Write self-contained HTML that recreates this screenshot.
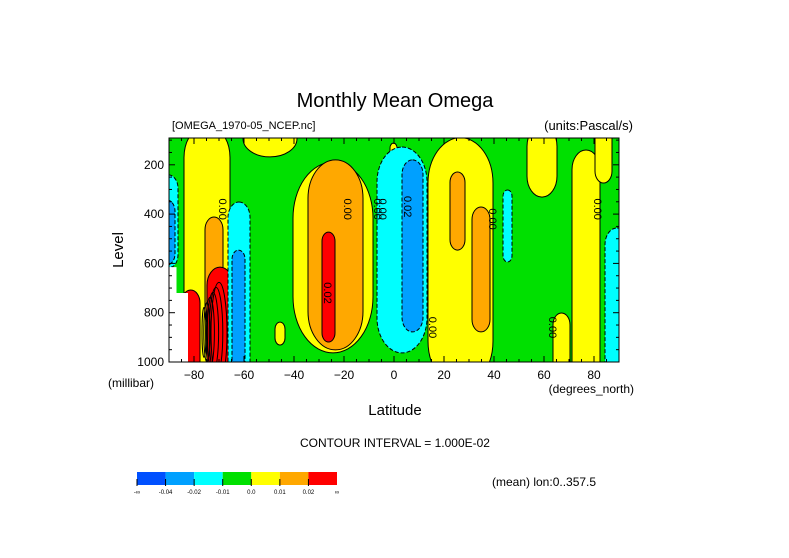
<!DOCTYPE html>
<html><head><meta charset="utf-8"><style>
body{margin:0;background:#fff;}
svg{display:block;font-family:"Liberation Sans",sans-serif;}
</style></head><body>
<svg id="chart" width="789" height="558" viewBox="0 0 789 558" xmlns="http://www.w3.org/2000/svg">
<rect width="789" height="558" fill="#fff"/>
<text x="395" y="107" font-size="20" text-anchor="middle" fill="#000">Monthly Mean Omega</text>
<text x="172" y="129" font-size="11" fill="#000">[OMEGA_1970-05_NCEP.nc]</text>
<text x="633" y="130" font-size="13" text-anchor="end" fill="#000">(units:Pascal/s)</text>
<defs><clipPath id="clip"><rect x="169" y="138" width="450" height="224"/></clipPath></defs>
<g id="plot" clip-path="url(#clip)"></g>
<g id="axes"></g>
<text transform="translate(123,250) rotate(-90)" font-size="15" text-anchor="middle">Level</text>
<text x="108" y="387" font-size="12">(millibar)</text>
<text x="634" y="393" font-size="12" text-anchor="end">(degrees_north)</text>
<text x="395" y="415" font-size="15" text-anchor="middle">Latitude</text>
<text x="395" y="447" font-size="12" text-anchor="middle">CONTOUR INTERVAL = 1.000E-02</text>
<g id="legend"></g>
<text x="492" y="486" font-size="12">(mean) lon:0..357.5</text>
</svg>
<script>
const NS="http://www.w3.org/2000/svg";
// blobs: [lat0, lat1, pTop, pBottom, levelIndex]
const blobLat0=[-84,-94,-94,-60.4,-40.4,-47.6,-1.6,13.6,53.2,71.2,63.6,80.4,-34.4,-75.6,22.4,31.2,-28.8,-74.8,-85,-66.4,-6.8,43.6,84.4,-64.8,3.2,-94];
const blobLat1=[-65.6,-86.4,-87.6,-38.8,-8.4,-43.6,1.2,39.6,65.2,82.4,70.4,87.2,-12.4,-68.4,28.4,38.4,-23.6,-64.4,-77.6,-57.6,13.2,47.2,94,-59.6,11.6,-88];
const blobPTop=[40,241,343,20,189,838,112,90,40,140,801,40,180,412,229,371,473,615,708,351,128,302,456,546,180,600];
const blobPBot=[1100,619,606,168,963,931,193,1100,331,1100,1100,274,951,858,546,878,919,1080,1080,1080,963,594,1100,1080,878,1000];
const blobLevel=[4,2,1,4,4,4,4,4,4,4,4,4,5,5,5,5,6,6,6,2,2,2,2,1,1,2];
const levelColors=["#0050ff","#00a0ff","#00ffff","#00e000","#ffff00","#ffa800","#ff0000"];
const xTicks=[-80,-60,-40,-20,0,20,40,60,80];
const yTicks=[200,400,600,800,1000];
const legendLabels=["-∞","-0.04","-0.02","-0.01","0.0","0.01","0.02","∞"];
const x=lat=>169+(lat+90)*2.5;
const y=p=>362-(1000-p)*0.2465;
const plot=document.getElementById('plot');
const bg=document.createElementNS(NS,'rect');


bg.setAttribute('x',169);bg.setAttribute('y',138);bg.setAttribute('width',450);bg.setAttribute('height',224);bg.setAttribute('fill',levelColors[3]);
plot.appendChild(bg);
const order=[4,5,6,2,1];
order.forEach(lv=>{
 for(let i=0;i<blobLat0.length;i++){
  if(blobLevel[i]!==lv)continue;
  const x0=x(blobLat0[i]),x1=x(blobLat1[i]),y0=y(blobPTop[i]),y1=y(blobPBot[i]);
  const w=x1-x0,h=y1-y0;
  const e=document.createElementNS(NS,'rect');
  
  
  e.setAttribute('x',x0);e.setAttribute('y',y0);e.setAttribute('width',w);e.setAttribute('height',h);
  e.setAttribute('rx',w/2);e.setAttribute('ry',Math.min(h/2,w*0.7));
  e.setAttribute('fill',levelColors[lv]);e.setAttribute('stroke','#000');e.setAttribute('stroke-width','1');
  if(lv<3)e.setAttribute('stroke-dasharray','4,2');
  plot.appendChild(e);
 }
});
const wm=document.createElementNS(NS,'polygon');


wm.setAttribute('points',`${x(-90)},${y(615)} ${x(-87)},${y(615)} ${x(-87)},${y(720)} ${x(-82.4)},${y(720)} ${x(-82.4)},${y(1000)} ${x(-90)},${y(1000)}`);
wm.setAttribute('fill','#fff');
plot.appendChild(wm);
for(let k=0;k<6;k++){
 const l=document.createElementNS(NS,'ellipse');
 
 
 l.setAttribute('cx',x(-76+k*1.2));l.setAttribute('cy',y(880));l.setAttribute('rx',2+k*1.2);l.setAttribute('ry',25+k*5);
 l.setAttribute('fill','none');l.setAttribute('stroke','#000');
 plot.appendChild(l);
}
const labs=[[-70,380,"0.00"],[-20,380,"0.00"],[-28,720,"0.02"],[-8,380,"0.00"],[4,370,"0.02"],[38,420,"0.00"],[-6,380,"0.00"],[80,380,"0.00"],[14,860,"0.00"],[62,860,"0.00"]];
labs.forEach(a=>{
 const t=document.createElementNS(NS,'text');
 
 
 t.setAttribute('transform',`translate(${x(a[0])},${y(a[1])}) rotate(90)`);
 t.setAttribute('font-size','11');t.setAttribute('text-anchor','middle');t.textContent=a[2];
 plot.appendChild(t);
});
const axes=document.getElementById('axes');
const fr=document.createElementNS(NS,'rect');


fr.setAttribute('x',169);fr.setAttribute('y',138);fr.setAttribute('width',450);fr.setAttribute('height',224);fr.setAttribute('fill','none');fr.setAttribute('stroke','#000');
axes.appendChild(fr);
function line(x1,y1,x2,y2){const l=document.createElementNS(NS,'line');


l.setAttribute('x1',x1);l.setAttribute('y1',y1);l.setAttribute('x2',x2);l.setAttribute('y2',y2);l.setAttribute('stroke','#000');axes.appendChild(l);}
for(let lat=-90;lat<=90;lat+=5){const L=lat%20===0?6:3;line(x(lat),362,x(lat),362-L);line(x(lat),138,x(lat),138+L);}
for(let p=100;p<=1000;p+=50){const L=p%200===0?6:3;line(169,y(p),169+L,y(p));line(619,y(p),619-L,y(p));}
xTicks.forEach(v=>{const t=document.createElementNS(NS,'text');


t.setAttribute('x',x(v));t.setAttribute('y',379);t.setAttribute('font-size','12');t.setAttribute('text-anchor','middle');t.textContent=String(v).replace('-','−');axes.appendChild(t);});
yTicks.forEach(v=>{const t=document.createElementNS(NS,'text');


t.setAttribute('x',164);t.setAttribute('y',y(v)+4);t.setAttribute('font-size','12');t.setAttribute('text-anchor','end');t.textContent=v;axes.appendChild(t);});
const lg=document.getElementById('legend');
const legColors=["#0050ff","#00a0ff","#00ffff","#00e000","#ffff00","#ffa800","#ff0000"];
legColors.forEach((c,i)=>{const r=document.createElementNS(NS,'rect');


const w=200/7;r.setAttribute('x',137+i*w);r.setAttribute('y',472);r.setAttribute('width',w);r.setAttribute('height',13);r.setAttribute('fill',c);lg.appendChild(r);
const tk=document.createElementNS(NS,'line');


tk.setAttribute('x1',137+i*w);tk.setAttribute('x2',137+i*w);tk.setAttribute('y1',479);tk.setAttribute('y2',486);tk.setAttribute('stroke','#000');lg.appendChild(tk);});
legendLabels.forEach((s,i)=>{const t=document.createElementNS(NS,'text');


t.setAttribute('x',137+i*200/7);t.setAttribute('y',494);t.setAttribute('font-size','6');t.setAttribute('text-anchor','middle');t.textContent=s;lg.appendChild(t);});
</script>
</body></html>
